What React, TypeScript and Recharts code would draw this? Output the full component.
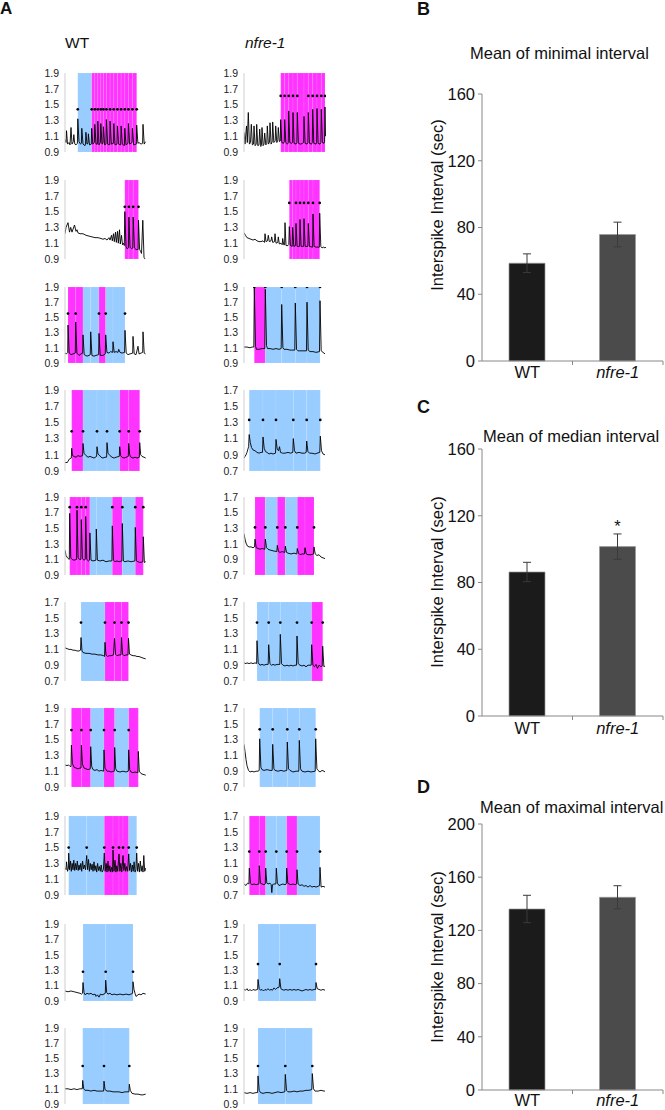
import React from 'react';
import {
  ComposedChart, Line, Scatter, XAxis, YAxis, ReferenceArea,
  BarChart, Bar, Cell, ErrorBar, LabelList,
} from 'recharts';

const FONT = '"Liberation Sans", Arial, Helvetica, sans-serif';
const BLUE = '#99ccff';
const MAGENTA = '#ff33ff';

type Pt = [number, number];

// ---------- Panel A : calcium traces (time in px-like units, ratio values) ----------
const wt1Trace: Pt[] = [[0,1.06],[1,1.02],[1.5,1.17],[2.5,1.0],[4,1.02],[5,0.99],[6,1.21],[7,1.0],[8.3,1.03],[8.8,1.12],[9.8,1.0],[11,0.99],[12.4,1.01],[12.8,1.32],[14,1.03],[15.5,1.0],[16.4,1.01],[16.8,1.2],[18,1.0],[20,0.98],[20.5,1.0],[20.9,1.15],[22,1.0],[23,1.01],[23.4,1.13],[24.5,0.99],[26.3,1.0],[26.7,1.2],[27.8,1.0],[29.4,1.02],[29.8,1.25],[31,1.0],[32.4,1.0],[32.8,1.29],[34,0.99],[35.4,1.02],[35.8,1.26],[37,1.0],[38,1.01],[38.4,1.22],[39.6,0.99],[41,1.0],[41.4,1.31],[42.6,1.0],[44.7,0.99],[45.1,1.29],[46.3,1.0],[48.4,1.01],[48.8,1.26],[50,0.99],[52,1.0],[52.4,1.23],[53.6,1.0],[55.7,0.99],[56.1,1.23],[57.3,1.0],[59.4,0.98],[59.8,1.2],[61,0.99],[63,1.01],[63.4,1.26],[64.6,1.0],[67,1.02],[67.4,1.2],[68.6,0.99],[71.3,1.0],[71.7,1.24],[72.9,1.01],[74,1.02],[76,1.0],[77.6,1.01],[78,1.25],[79.2,1.0],[80.5,1.03]];
const wt1Bounds = [12.8,26.7,29.8,32.8,35.8,38.4,41.4,45.1,48.8,52.4,56.1,59.8,63.4,67.4,71.7];
const wt1Colors = ['b','m','m','m','m','m','m','m','m','m','m','m','m','m'];
const wt1Dots = [12.8,26.7,29.8,32.8,35.8,38.4,41.4,45.1,48.8,52.4,56.1,59.8,63.4,67.4,71.7];

const wt2Trace: Pt[] = [[0,1.22],[1,1.3],[3,1.36],[4.5,1.24],[5.7,1.3],[7,1.24],[9.5,1.33],[11,1.25],[12,1.27],[13,1.23],[15,1.22],[18,1.22],[21,1.2],[24,1.19],[27,1.18],[30,1.17],[33,1.17],[36,1.16],[38,1.15],[40,1.16],[42,1.14],[44,1.17],[45,1.14],[46.5,1.2],[47.3,1.13],[48.5,1.22],[49.3,1.12],[50.5,1.24],[51.3,1.11],[52.5,1.25],[53.3,1.1],[54.5,1.27],[55.3,1.09],[56.5,1.2],[57.5,1.08],[58.5,1.1],[59.3,1.07],[59.8,1.5],[61,1.06],[62,1.03],[63.4,1.04],[63.9,1.43],[65,1.05],[66.5,1.03],[67.8,1.04],[68.2,1.43],[69.4,1.04],[71,1.02],[73.1,1.02],[73.5,1.39],[74.6,1.02],[75.5,1.0],[76.5,0.97],[77.8,1.39],[79,0.92],[80,0.9]];
const wt2Bounds = [59.8,63.9,68.2,73.5];
const wt2Colors = ['m','m','m'];
const wt2Dots = [59.8,63.9,68.2,73.5];

const wt3Trace: Pt[] = [[0,1.03],[1.5,1.02],[2.7,1.04],[3,1.4],[4.2,1.03],[6,1.01],[8,1.02],[10.3,1.03],[10.7,1.44],[11.9,1.03],[14,1.0],[16,1.02],[17.7,1.03],[18,1.27],[19.2,1.01],[22,0.99],[24,1.0],[25.3,1.01],[25.7,1.31],[26.9,1.0],[29,0.99],[31,1.0],[33.6,1.01],[34,1.29],[35.2,1.0],[38,1.0],[40.3,1.02],[40.7,1.27],[41.9,1.04],[44,1.03],[45.5,1.05],[47.7,1.04],[48,1.18],[49.2,1.04],[51,1.05],[53,1.04],[53.7,1.08],[55,1.04],[57,1.03],[59.6,1.04],[60,1.33],[61.2,1.03],[63,1.01],[65,1.02],[67.7,1.03],[68,1.25],[69.2,1.02],[71,1.01],[73,1.12],[74,1.02],[76,1.03],[77.7,1.04],[78,1.31],[79.2,1.03],[80.5,1.02]];
const wt3Bounds = [3,10.7,18,25.7,34,40.7,48,60];
const wt3Colors = ['m','m','b','b','m','b','b'];
const wt3Dots = [3,10.7,34,40.7,60];

const wt4Trace: Pt[] = [[0,1.0],[1,1.01],[2,1.0],[3,1.02],[4.5,1.05],[6.3,1.06],[6.7,1.18],[7.5,1.09],[9,1.08],[11,1.07],[13,1.09],[15,1.08],[17.6,1.09],[18,1.24],[19,1.12],[21,1.09],[23,1.07],[25,1.08],[27,1.07],[29,1.06],[31.6,1.08],[32,1.2],[33,1.11],[34,1.1],[36,1.07],[38,1.06],[40,1.07],[41.6,1.07],[42,1.25],[43,1.12],[45,1.09],[47,1.07],[49,1.06],[51,1.07],[54.3,1.08],[54.7,1.2],[55.7,1.09],[57,1.07],[59,1.06],[61,1.07],[63.3,1.08],[63.7,1.24],[64.7,1.1],[66,1.07],[68,1.06],[70,1.07],[72,1.06],[74.3,1.07],[74.7,1.25],[75.7,1.1],[77,1.08],[79,1.07],[80.7,1.06]];
const wt4Bounds = [6.7,18,32,42,54.7,63.7,74.7];
const wt4Colors = ['m','b','b','b','m','m'];
const wt4Dots = [6.7,18,32,42,54.7,63.7,74.7];

const wt5Trace: Pt[] = [[0,1.22],[1,1.15],[2.5,1.12],[4.3,1.1],[4.7,1.69],[5.8,1.12],[7,1.1],[9,1.09],[11.6,1.1],[12,1.73],[13.1,1.12],[14.5,1.1],[15.9,1.1],[16.3,1.61],[17.4,1.11],[19,1.09],[20.3,1.1],[20.7,1.65],[21.8,1.1],[23.5,1.08],[24.5,1.09],[24.9,1.44],[26,1.09],[28,1.08],[30.9,1.09],[31.3,1.49],[32.4,1.09],[35,1.08],[38,1.09],[41,1.07],[44,1.08],[46.9,1.08],[47.3,1.53],[48.4,1.09],[50,1.07],[52,1.08],[54,1.07],[56.9,1.08],[57.3,1.56],[58.4,1.08],[60,1.07],[63,1.08],[66,1.07],[69.9,1.08],[70.3,1.51],[71.4,1.08],[73,1.07],[75,1.06],[77.9,1.07],[78.3,1.39],[79.4,1.06],[80.7,1.07]];
const wt5Bounds = [4.7,12,16.3,20.7,24.9,31.3,47.3,57.3,70.3,78.3];
const wt5Colors = ['m','m','m','m','b','b','m','b','m'];
const wt5Dots = [4.7,12,16.3,20.7,47.3,57.3,70.3,78.3];

const wt6Trace: Pt[] = [[0,1.12],[2,1.11],[4,1.1],[6,1.1],[8,1.09],[10,1.09],[12,1.08],[14,1.08],[15.5,1.09],[16,1.25],[17,1.08],[18,1.06],[21,1.05],[24,1.05],[27,1.04],[30,1.04],[33,1.03],[36,1.03],[38.6,1.02],[39.5,1.01],[40,1.19],[41,1.03],[42.5,1.01],[44,1.02],[46,1.02],[48.5,1.03],[49.5,1.24],[50.5,1.04],[52,1.02],[54,1.03],[56,1.03],[56.5,1.25],[57.5,1.04],[59,1.02],[61,1.03],[63,1.03],[63.5,1.24],[64.5,1.04],[66,1.03],[68,1.02],[70,1.02],[72,1.01],[74,1.01],[76,1.0],[78,0.99],[80.7,0.98]];
const wt6Bounds = [16,40,49.5,56.5,63.5];
const wt6Colors = ['b','m','m','m'];
const wt6Dots = [16,40,49.5,56.5,63.5];

const wt7Trace: Pt[] = [[0,1.18],[2,1.17],[3.5,1.18],[5,1.16],[6,1.16],[6.4,1.43],[7.4,1.2],[9,1.15],[11,1.14],[13,1.13],[15,1.14],[16,1.14],[16.4,1.43],[17.4,1.19],[19,1.14],[21,1.13],[23,1.12],[25.3,1.13],[25.7,1.41],[26.7,1.16],[28,1.12],[30,1.11],[32,1.12],[34,1.1],[36,1.11],[38.6,1.1],[39,1.37],[40,1.14],[42,1.1],[44,1.1],[46,1.09],[49.3,1.1],[49.7,1.4],[50.7,1.13],[52,1.1],[55,1.09],[58,1.1],[61,1.09],[63.3,1.1],[63.7,1.37],[64.7,1.12],[66,1.09],[68,1.08],[70,1.09],[72.9,1.08],[73.3,1.35],[74.3,1.1],[76,1.07],[78,1.06],[80.7,1.05]];
const wt7Bounds = [6.4,16.4,25.7,39,49.7,63.7,73.3];
const wt7Colors = ['m','m','b','m','b','m'];
const wt7Dots = [6.4,16.4,25.7,39,49.7,63.7];

const wt8Trace: Pt[] = [[0,1.25],[1,1.22],[1.5,1.32],[2.5,1.2],[3.4,1.24],[3.7,1.43],[4.6,1.22],[5.5,1.33],[6.3,1.2],[7.2,1.3],[8,1.22],[8.8,1.34],[9.7,1.21],[10.6,1.3],[11.4,1.22],[12.3,1.33],[13.2,1.21],[14,1.28],[14.9,1.22],[15.8,1.3],[16.7,1.2],[17.6,1.33],[18.5,1.23],[19.4,1.28],[20.5,1.22],[21.7,1.4],[22.6,1.22],[23.5,1.35],[24.4,1.2],[25.3,1.3],[26.2,1.22],[27.1,1.29],[28,1.2],[29,1.32],[29.9,1.21],[30.8,1.27],[31.7,1.19],[32.6,1.3],[33.5,1.21],[34.4,1.26],[35.3,1.2],[36.2,1.28],[37.1,1.19],[38.4,1.22],[39.3,1.43],[40.2,1.2],[41.1,1.3],[42,1.19],[43,1.33],[43.9,1.2],[44.8,1.27],[45.7,1.19],[46.6,1.25],[47.5,1.19],[48,1.47],[49,1.2],[50,1.34],[50.9,1.19],[51.8,1.27],[52.7,1.2],[54,1.42],[54.9,1.2],[55.8,1.3],[56.8,1.19],[58,1.4],[58.9,1.21],[59.8,1.3],[60.7,1.2],[61.6,1.26],[62.7,1.2],[63.7,1.42],[64.6,1.21],[65.5,1.3],[66.4,1.19],[67.3,1.28],[68.2,1.2],[69.1,1.32],[70,1.19],[70.9,1.22],[71.7,1.43],[72.6,1.2],[73.5,1.3],[74.4,1.19],[75.3,1.33],[76.2,1.2],[77.1,1.27],[78,1.19],[78.8,1.4],[79.7,1.2],[80.7,1.24]];
const wt8Bounds = [3.7,21.7,39.3,48,54,58,63.7,71.7];
const wt8Colors = ['b','b','m','m','m','m','b'];
const wt8Dots = [3.7,21.7,39.3,48,54,58,63.7,71.7];

const wt9Trace: Pt[] = [[0,1.03],[3,1.02],[6,1.03],[9,1.02],[12,1.01],[15,1.0],[16.5,0.99],[17.5,1.0],[18,1.14],[19,1.01],[20,0.98],[22,1.0],[24,0.99],[26,1.0],[28,0.98],[30,0.99],[31,0.96],[32.5,0.98],[34,0.95],[35.5,0.99],[37,0.98],[39,0.99],[40.3,1.0],[40.7,1.17],[41.7,1.01],[43,0.99],[45,1.0],[47,0.98],[49,0.99],[52,0.98],[55,0.99],[58,0.98],[61,0.99],[64,0.98],[66,0.99],[67.6,1.0],[68,1.15],[69,1.05],[70,1.0],[71,0.96],[72,0.97],[74,0.99],[76,0.98],[78,1.0],[80.7,0.99]];
const wt9Bounds = [18,40.7,68];
const wt9Colors = ['b','b'];
const wt9Dots = [18,40.7,68];

const wt10Trace: Pt[] = [[0,1.1],[3,1.1],[6,1.09],[9,1.1],[12,1.09],[15,1.1],[17.3,1.1],[17.7,1.21],[18.7,1.1],[20,1.08],[23,1.08],[26,1.07],[29,1.08],[32,1.07],[35,1.07],[38.6,1.07],[39,1.2],[40,1.09],[42,1.07],[45,1.07],[48,1.06],[51,1.06],[54,1.06],[57,1.05],[60,1.06],[63.9,1.06],[64.3,1.16],[65.3,1.08],[67,1.04],[70,1.03],[73,1.03],[76,1.02],[78,1.02],[80.7,1.03]];
const wt10Bounds = [17.7,39,64.3];
const wt10Colors = ['b','b'];
const wt10Dots = [17.7,39,64.3];

const nf1Trace: Pt[] = [[0,1.15],[1,1.0],[2.5,1.23],[3.3,1.02],[4.3,1.4],[5.4,1.0],[6.5,1.02],[7.3,1.25],[8.4,0.99],[9.5,1.0],[10,1.23],[11.1,0.98],[12.2,1.0],[12.7,1.25],[13.8,0.98],[15,0.99],[15.7,1.19],[16.8,0.97],[17.5,1.0],[18,1.21],[19.1,0.98],[20,1.0],[20.7,1.14],[21.8,0.99],[22.8,1.01],[23.3,1.23],[24.4,1.0],[25.5,1.02],[26,1.27],[27.1,1.0],[28.2,1.03],[28.7,1.28],[29.8,1.02],[31.2,1.04],[31.7,1.23],[32.8,1.02],[33.8,1.05],[34.3,1.21],[35.4,1.03],[36.3,1.04],[36.7,1.31],[37.8,1.02],[39.5,1.01],[40.3,1.03],[40.7,1.31],[41.8,1.02],[43.5,1.0],[44.3,1.02],[44.7,1.42],[45.8,1.02],[47.5,1.01],[48.6,1.02],[49,1.4],[50.1,1.01],[52,1.0],[52.9,1.02],[53.3,1.4],[54.4,1.01],[56.5,1.0],[58.5,1.01],[59.6,1.02],[60,1.35],[61.1,1.01],[63,1.0],[63.9,1.02],[64.3,1.4],[65.4,1.01],[67.5,1.0],[68.3,1.02],[68.7,1.44],[69.8,1.01],[72,1.0],[72.6,1.02],[73,1.45],[74.1,1.01],[76,1.0],[76.9,1.02],[77.3,1.44],[78.4,1.02],[80,1.01],[80.6,1.03],[81,1.47],[81.5,1.1]];
const nf1Bounds = [36.7,40.7,44.7,49,53.3,60,64.3,68.7,73,77.3,81];
const nf1Colors = ['m','m','m','m','m','m','m','m','m','m'];
const nf1Dots = [36.7,40.7,44.7,49,53.3,64.3,68.7,73,77.3,81];

const nf2Trace: Pt[] = [[0,1.23],[1.5,1.2],[3,1.17],[5,1.16],[7,1.15],[9,1.14],[11,1.15],[13,1.13],[15,1.12],[17,1.12],[19,1.13],[20.5,1.11],[21,1.22],[22,1.12],[23.5,1.13],[24.3,1.2],[25.3,1.12],[27,1.13],[27.7,1.18],[28.7,1.11],[30.5,1.12],[31,1.22],[32,1.1],[33.8,1.11],[34.3,1.18],[35.3,1.09],[37,1.1],[38.2,1.08],[38.7,1.16],[39.7,1.08],[40.6,1.08],[41,1.36],[42,1.07],[44,1.07],[44.8,1.08],[45.3,1.31],[46.4,1.07],[48.2,1.06],[48.7,1.3],[49.8,1.06],[51.6,1.07],[52,1.35],[53.1,1.06],[55.6,1.06],[56,1.4],[57.1,1.06],[59.6,1.06],[60,1.41],[61.1,1.06],[63.9,1.06],[64.3,1.35],[65.4,1.06],[68.6,1.05],[69,1.47],[70.1,1.06],[72,1.05],[75.3,1.05],[75.7,1.48],[76.8,1.06],[78,1.04],[79.5,1.05],[81,1.04],[82,1.05]];
const nf2Bounds = [45.3,48.7,52,56,60,64.3,69,75.7];
const nf2Colors = ['m','m','m','m','m','m','m'];
const nf2Dots = [45.3,52,56,60,64.3,69,75.7];

const nf3Trace: Pt[] = [[0,1.11],[3,1.11],[6,1.1],[8,1.11],[9.8,1.11],[10.3,1.89],[11.5,1.12],[12.5,1.08],[15,1.08],[18,1.09],[20.8,1.09],[21.3,1.87],[22.5,1.13],[23.5,1.09],[26,1.09],[29,1.08],[32,1.09],[35,1.08],[37.2,1.09],[37.7,1.67],[38.9,1.1],[40,1.08],[43,1.08],[46,1.07],[49,1.07],[50.8,1.07],[51.3,1.69],[52.5,1.08],[54,1.06],[57,1.06],[60,1.06],[62.5,1.06],[63,1.7],[64.2,1.07],[66,1.05],[69,1.05],[72,1.04],[75.5,1.05],[76,1.72],[77.2,1.06],[79,1.04],[81,1.02]];
const nf3Bounds = [10.3,21.3,37.7,51.3,63,76];
const nf3Colors = ['m','b','b','b','b'];
const nf3Dots = [10.3,21.3,37.7,51.3,63,76];

const nf4Trace: Pt[] = [[0,0.86],[1,0.88],[2,0.9],[3,0.93],[4.6,1.0],[5.2,1.15],[6.3,1.05],[7.5,0.99],[9,0.96],[11,0.95],[13,0.93],[15,0.92],[17,0.93],[18.5,0.93],[19,1.12],[20.2,0.98],[21.5,0.94],[23,0.93],[25,0.91],[27,0.92],[29,0.91],[31.5,0.92],[32,1.09],[33.2,0.97],[34.5,0.95],[35.5,1.0],[36.5,0.93],[38.5,0.92],[41,0.92],[44,0.93],[46.5,0.92],[48.8,0.93],[49.3,1.1],[50.5,0.95],[52,0.92],[55,0.93],[58,0.92],[60.5,0.92],[62.2,0.93],[62.7,1.07],[63.9,0.94],[65.5,0.92],[68,0.92],[71,0.91],[73,0.92],[75.8,0.93],[76.3,1.13],[77.5,0.95],[79,0.91],[81,0.9]];
const nf4Bounds = [5.2,19,32,49.3,62.7,76.3];
const nf4Colors = ['b','b','b','b','b'];
const nf4Dots = [5.2,19,32,49.3,62.7,76.3];

const nf5Trace: Pt[] = [[0,1.23],[1,1.16],[2,1.11],[3.5,1.07],[5,1.06],[7,1.06],[9,1.05],[10.5,1.06],[11,1.16],[12.2,1.05],[14,1.04],[16,1.03],[18,1.04],[20.8,1.03],[21.3,1.16],[22.5,1.05],[24,1.03],[26,1.02],[29,1.01],[32.8,1.0],[33.3,1.08],[34.5,1.0],[36,0.99],[38,1.0],[40.8,0.99],[41.3,1.07],[42.5,0.99],[44,0.98],[47,0.97],[50,0.98],[52.8,0.97],[53.3,1.04],[54.5,0.98],[56,0.96],[58,0.97],[60.5,0.97],[61,1.05],[62.2,0.97],[64,0.96],[67,0.96],[69.5,0.97],[70,1.06],[71.2,0.97],[73,0.95],[75,0.96],[77,0.93],[79,0.92],[81,0.91]];
const nf5Bounds = [11,21.3,33.3,41.3,53.3,61,70];
const nf5Colors = ['m','b','m','b','m','m'];
const nf5Dots = [11,21.3,33.3,41.3,53.3,70];

const nf6Trace: Pt[] = [[0,0.93],[2,0.92],[3,0.93],[5,0.92],[7,0.93],[9,0.92],[11,0.93],[12.6,0.92],[13,1.21],[14.2,0.93],[16,0.9],[18,0.91],[20,0.9],[22,0.91],[24.2,0.91],[24.7,1.16],[25.9,0.92],[27.5,0.9],[29,0.91],[31,0.9],[33,0.91],[35.8,0.91],[36.3,1.29],[37.5,0.92],[39,0.9],[41,0.89],[43,0.9],[45,0.89],[47,0.9],[49,0.89],[51,0.9],[52.5,0.9],[53,1.27],[54.2,0.92],[56,0.9],[58,0.89],[60,0.9],[62,0.88],[64,0.9],[67.2,0.9],[67.7,1.16],[68.9,0.9],[70.5,0.88],[72,0.91],[73.5,0.86],[75,0.9],[77,0.88],[78.2,0.89],[78.7,1.14],[79.9,0.88],[81,0.89]];
const nf6Bounds = [13,24.7,36.3,53,67.7,78.7];
const nf6Colors = ['b','b','b','b','m'];
const nf6Dots = [13,24.7,36.3,53,67.7,78.7];

const nf7Trace: Pt[] = [[0,1.24],[1,1.15],[2,1.05],[3,0.97],[4.5,0.91],[6,0.89],[8,0.9],[10,0.89],[12,0.9],[14,0.9],[15.2,0.91],[15.7,1.31],[16.9,0.95],[18,0.92],[20,0.91],[23,0.92],[26,0.91],[28.2,0.91],[28.7,1.24],[29.9,0.93],[31,0.91],[34,0.9],[37,0.91],[40,0.9],[42.8,0.91],[43.3,1.27],[44.5,0.93],[46,0.91],[49,0.89],[52,0.9],[54.8,0.9],[55.3,1.29],[56.5,0.93],[58,0.9],[61,0.89],[64,0.9],[67,0.89],[71.2,0.9],[71.7,1.31],[72.9,0.93],[74,0.91],[76,0.89],[78,0.91],[80,0.9],[81,0.89]];
const nf7Bounds = [15.7,28.7,43.3,55.3,71.7];
const nf7Colors = ['b','b','b','b'];
const nf7Dots = [15.7,28.7,43.3,55.3,71.7];

const nf8Trace: Pt[] = [[0,0.84],[2,0.82],[3.5,0.85],[4.9,0.84],[5.3,1.04],[6.4,0.85],[8,0.83],[10,0.84],[12,0.83],[14.9,0.84],[15.3,1.07],[16.4,0.85],[18,0.84],[20,0.83],[21.3,0.84],[21.7,1.04],[22.8,0.85],[24,0.84],[26,0.85],[27.2,0.83],[27.8,0.73],[28.5,0.83],[30,0.84],[31.9,0.84],[32.3,1.04],[33.4,0.85],[35,0.82],[37,0.83],[39,0.84],[41,0.83],[42.3,0.84],[42.7,1.04],[43.8,0.85],[45,0.84],[47,0.83],[49,0.84],[51,0.83],[52.6,0.84],[53,1.02],[54.1,0.84],[56,0.82],[58,0.83],[60,0.81],[62,0.82],[64,0.8],[66,0.82],[68,0.8],[70,0.81],[72,0.8],[74,0.81],[75.6,0.82],[76,1.05],[77.1,0.8],[79,0.81],[81,0.8]];
const nf8Bounds = [5.3,15.3,21.7,32.3,42.7,53,76];
const nf8Colors = ['m','m','b','b','m','b'];
const nf8Dots = [5.3,15.3,21.7,32.3,42.7,53,76];

const nf9Trace: Pt[] = [[0,1.05],[1.5,1.04],[3,1.06],[4.5,1.03],[6,1.05],[7.5,1.03],[9,1.05],[11,1.04],[13.6,1.05],[14,1.18],[15.2,1.06],[16.5,1.04],[18,1.05],[19.5,1.03],[21,1.05],[22.5,1.04],[24,1.06],[25.5,1.04],[27,1.05],[28.5,1.04],[30,1.07],[31.5,1.05],[33,1.07],[35.2,1.08],[35.7,1.19],[36.9,1.06],[38,1.05],[40,1.04],[42,1.05],[44,1.04],[46,1.05],[48,1.04],[50,1.05],[52,1.04],[54,1.05],[56,1.04],[58,1.03],[60,1.04],[62,1.05],[64,1.04],[66,1.05],[68,1.04],[70,1.05],[71.6,1.05],[72,1.14],[73.2,1.06],[75,1.05],[77,1.04],[79,1.05],[81,1.04]];
const nf9Bounds = [14,35.7,72];
const nf9Colors = ['b','b'];
const nf9Dots = [14,35.7,72];

const nf10Trace: Pt[] = [[0,1.05],[3,1.04],[6,1.05],[9,1.04],[12,1.05],[13.6,1.05],[14,1.27],[15.2,1.08],[16.5,1.05],[19,1.04],[22,1.05],[25,1.05],[28,1.04],[31,1.05],[34,1.06],[37,1.05],[40.8,1.06],[41.3,1.29],[42.5,1.08],[44,1.06],[47,1.06],[50,1.07],[53,1.06],[56,1.07],[59,1.07],[62,1.08],[65,1.08],[67.8,1.09],[68.3,1.3],[69.5,1.1],[71,1.07],[74,1.07],[77,1.08],[80,1.07],[81,1.07]];
const nf10Bounds = [14,41.3,68.3];
const nf10Colors = ['b','b'];
const nf10Dots = [14,41.3,68.3];

const wtDotLevels = [1.44, 1.56, 1.55, 1.39, 1.77, 1.44, 1.62, 1.5, 1.28, 1.4];
const nfDotLevels = [1.61, 1.61, 1.9, 1.33, 1.31, 1.44, 1.43, 1.25, 1.38, 1.4];
const wtLowRange = [false, false, false, false, false, true, false, false, false, false];
const nfLowRange = [false, false, false, true, true, true, true, true, false, false];
const highTicks = [0.9, 1.1, 1.3, 1.5, 1.7, 1.9];
const lowTicks = [0.7, 0.9, 1.1, 1.3, 1.5, 1.7];

// ---------- Panels B-D ----------
const groups = ['WT', 'nfre-1'];
const minimalMean = [58.6, 75.8];
const minimalErr = [5.6, 7.4];
const medianMean = [86.3, 101.5];
const medianErr = [5.8, 7.6];
const medianSig = ['', '*'];
const maximalMean = [136.1, 144.9];
const maximalErr = [10.3, 8.7];
const ticks160 = [0, 40, 80, 120, 160];
const ticks200 = [0, 40, 80, 120, 160, 200];
const barFills = ['#1b1b1b', '#4b4b4b'];

// ---------- layout ----------
const rowTops = [73, 180, 287, 390, 497, 602, 708, 816, 924, 1028];
const rowHeights = [79, 79, 76, 81, 78, 79, 79, 79, 77, 76];
const LEFT_AXIS = 65;
const RIGHT_AXIS = 244;
const PW = 82;
const YW = 26;
const MT = 7;

type PanelSpec = { trace: Pt[]; bounds: number[]; colors: string[]; dots: number[] };

const wtPanels: PanelSpec[] = [
  { trace: wt1Trace, bounds: wt1Bounds, colors: wt1Colors, dots: wt1Dots },
  { trace: wt2Trace, bounds: wt2Bounds, colors: wt2Colors, dots: wt2Dots },
  { trace: wt3Trace, bounds: wt3Bounds, colors: wt3Colors, dots: wt3Dots },
  { trace: wt4Trace, bounds: wt4Bounds, colors: wt4Colors, dots: wt4Dots },
  { trace: wt5Trace, bounds: wt5Bounds, colors: wt5Colors, dots: wt5Dots },
  { trace: wt6Trace, bounds: wt6Bounds, colors: wt6Colors, dots: wt6Dots },
  { trace: wt7Trace, bounds: wt7Bounds, colors: wt7Colors, dots: wt7Dots },
  { trace: wt8Trace, bounds: wt8Bounds, colors: wt8Colors, dots: wt8Dots },
  { trace: wt9Trace, bounds: wt9Bounds, colors: wt9Colors, dots: wt9Dots },
  { trace: wt10Trace, bounds: wt10Bounds, colors: wt10Colors, dots: wt10Dots },
];
const nfPanels: PanelSpec[] = [
  { trace: nf1Trace, bounds: nf1Bounds, colors: nf1Colors, dots: nf1Dots },
  { trace: nf2Trace, bounds: nf2Bounds, colors: nf2Colors, dots: nf2Dots },
  { trace: nf3Trace, bounds: nf3Bounds, colors: nf3Colors, dots: nf3Dots },
  { trace: nf4Trace, bounds: nf4Bounds, colors: nf4Colors, dots: nf4Dots },
  { trace: nf5Trace, bounds: nf5Bounds, colors: nf5Colors, dots: nf5Dots },
  { trace: nf6Trace, bounds: nf6Bounds, colors: nf6Colors, dots: nf6Dots },
  { trace: nf7Trace, bounds: nf7Bounds, colors: nf7Colors, dots: nf7Dots },
  { trace: nf8Trace, bounds: nf8Bounds, colors: nf8Colors, dots: nf8Dots },
  { trace: nf9Trace, bounds: nf9Bounds, colors: nf9Colors, dots: nf9Dots },
  { trace: nf10Trace, bounds: nf10Bounds, colors: nf10Colors, dots: nf10Dots },
];

const DotShape = (p: any) => <circle cx={p.cx} cy={p.cy} r={1.35} fill="#000" />;

function TracePanel({ spec, level, low, axisX, top, height }: {
  spec: PanelSpec; level: number; low: boolean; axisX: number; top: number; height: number;
}) {
  const ticks = low ? lowTicks : highTicks;
  const lo = ticks[0];
  const hi = ticks[ticks.length - 1];
  const data = spec.trace.map(([t, v]) => ({ t, v }));
  const dotData = spec.dots.map((t) => ({ t, v: level }));
  const segs = spec.colors.map((c, i) => ({ x1: spec.bounds[i], x2: spec.bounds[i + 1], fill: c === 'm' ? MAGENTA : BLUE }));
  return (
    <div style={{ position: 'absolute', left: axisX - YW, top: top - MT }}>
      <ComposedChart width={YW + PW + 3} height={height + 2 * MT} margin={{ top: MT, right: 3, bottom: MT, left: 0 }}>
        <XAxis type="number" dataKey="t" domain={[0, PW]} hide allowDataOverflow />
        <YAxis
          type="number"
          domain={[lo, hi]}
          ticks={ticks}
          width={YW}
          interval={0}
          tickLine={false}
          tickSize={3}
          tickMargin={3}
          axisLine={{ stroke: '#cfcfcf', strokeWidth: 1 }}
          tick={{ fontSize: 10.5, fill: '#222', fontFamily: FONT }}
          tickFormatter={(v: number) => v.toFixed(1)}
          allowDataOverflow
        />
        {segs.map((s, i) => (
          <ReferenceArea key={i} x1={s.x1} x2={s.x2} y1={lo} y2={hi} fill={s.fill} fillOpacity={1}
            stroke="#ffffff" strokeOpacity={0.18} strokeWidth={0.6} />
        ))}
        <Line data={data} dataKey="v" type="linear" stroke="#000" strokeWidth={0.9} dot={false}
          activeDot={false} isAnimationActive={false} />
        <Scatter data={dotData} dataKey="v" shape={DotShape} isAnimationActive={false} />
      </ComposedChart>
    </div>
  );
}

const BAR_PW = 181;
const BAR_YW = 62;
const BAR_MT = 10;
const BAR_FS = 16.5;

function CatTick(props: any) {
  const { x, y, payload, gap, half } = props;
  const italic = payload.value === 'nfre-1';
  return (
    <g>
      <text x={x} y={y + gap} dy="0.72em" textAnchor="middle" fontSize={BAR_FS} fontFamily={FONT}
        fontStyle={italic ? 'italic' : 'normal'} fill="#111">{payload.value}</text>
      <line x1={x + half} x2={x + half} y1={y} y2={y + 4} stroke="#888" strokeWidth={1} />
    </g>
  );
}

function IntervalBars({ top, plotH, means, errs, sig, ticks, gap }: {
  top: number; plotH: number; means: number[]; errs: number[]; sig?: string[]; ticks: number[]; gap: number;
}) {
  const data = groups.map((g, i) => ({ group: g, mean: means[i], err: errs[i], sig: sig ? sig[i] : '' }));
  const half = BAR_PW / groups.length / 2;
  return (
    <div style={{ position: 'absolute', left: 482 - BAR_YW, top: top - BAR_MT }}>
      <BarChart width={BAR_YW + BAR_PW + 2} height={BAR_MT + plotH + 20} data={data}
        margin={{ top: BAR_MT, right: 2, bottom: 0, left: 0 }}>
        <XAxis dataKey="group" height={20} interval={0} tickLine={false} tickSize={0} tickMargin={0}
          axisLine={{ stroke: '#888' }} tick={(p: any) => <CatTick {...p} gap={gap} half={half} />} />
        <YAxis type="number" domain={[ticks[0], ticks[ticks.length - 1]]} ticks={ticks} interval={0}
          width={BAR_YW} tickSize={4} tickMargin={3} axisLine={{ stroke: '#888' }} tickLine={{ stroke: '#888' }}
          tick={{ fontSize: BAR_FS, fill: '#111', fontFamily: FONT }} />
        <Bar dataKey="mean" barSize={36} stroke="#9a9a9a" strokeWidth={0.7} isAnimationActive={false}>
          {data.map((d, i) => <Cell key={d.group} fill={barFills[i]} />)}
          <ErrorBar dataKey="err" width={4} stroke="#3a3a3a" strokeWidth={1} direction="y" />
          {sig ? <LabelList dataKey="sig" position="top" offset={15} fontSize={BAR_FS} fill="#111" fontFamily={FONT} /> : null}
        </Bar>
      </BarChart>
    </div>
  );
}

const txt = (extra: React.CSSProperties): React.CSSProperties => ({
  position: 'absolute', fontFamily: FONT, color: '#111', lineHeight: 1, whiteSpace: 'nowrap', ...extra,
});

function YLabel({ cy }: { cy: number }) {
  return (
    <div style={txt({ left: 437, top: cy, fontSize: BAR_FS, transform: 'translate(-50%, -50%) rotate(-90deg)' })}>
      Interspike Interval (sec)
    </div>
  );
}

export default function App() {
  return (
    <div style={{ position: 'absolute', left: 0, top: 0, width: 665, height: 1110, background: '#fff', overflow: 'hidden' }}>
      <div style={txt({ left: 0, top: 0, fontSize: 17, fontWeight: 'bold' })}>A</div>
      <div style={txt({ left: 65, top: 35, fontSize: 15.5 })}>WT</div>
      <div style={txt({ left: 245, top: 35, fontSize: 15.5, fontStyle: 'italic' })}>nfre-1</div>

      {wtPanels.map((p, i) => (
        <TracePanel key={'wt' + i} spec={p} level={wtDotLevels[i]} low={wtLowRange[i]}
          axisX={LEFT_AXIS} top={rowTops[i]} height={rowHeights[i]} />
      ))}
      {nfPanels.map((p, i) => (
        <TracePanel key={'nf' + i} spec={p} level={nfDotLevels[i]} low={nfLowRange[i]}
          axisX={RIGHT_AXIS} top={rowTops[i]} height={rowHeights[i]} />
      ))}

      <div style={txt({ left: 417, top: 0, fontSize: 18, fontWeight: 'bold' })}>B</div>
      <div style={txt({ left: 470, top: 45, fontSize: BAR_FS })}>Mean of minimal interval</div>
      <YLabel cy={205} />
      <IntervalBars top={94} plotH={267} means={minimalMean} errs={minimalErr} ticks={ticks160} gap={5} />

      <div style={txt({ left: 417, top: 398, fontSize: 18, fontWeight: 'bold' })}>C</div>
      <div style={txt({ left: 483, top: 428, fontSize: BAR_FS })}>Mean of median interval</div>
      <YLabel cy={582} />
      <IntervalBars top={449} plotH={267} means={medianMean} errs={medianErr} sig={medianSig} ticks={ticks160} gap={6.5} />

      <div style={txt({ left: 417, top: 778, fontSize: 18, fontWeight: 'bold' })}>D</div>
      <div style={txt({ left: 480, top: 799, fontSize: BAR_FS })}>Mean of maximal interval</div>
      <YLabel cy={957} />
      <IntervalBars top={824} plotH={266} means={maximalMean} errs={maximalErr} ticks={ticks200} gap={4} />
    </div>
  );
}
